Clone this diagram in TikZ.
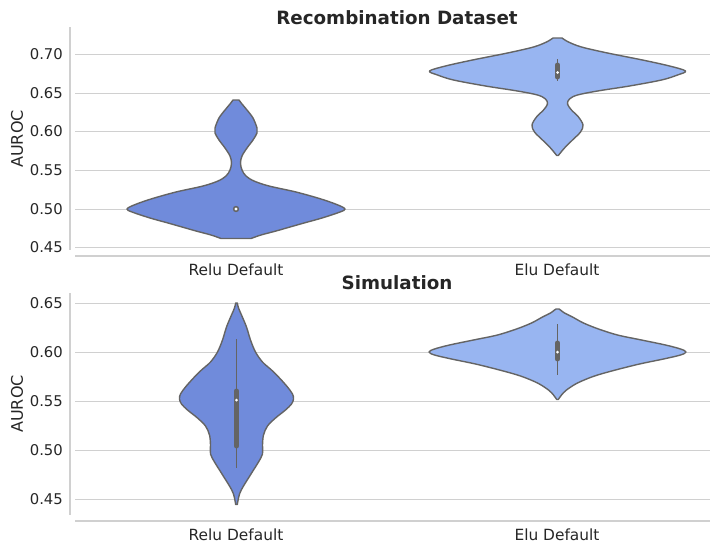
\documentclass[tikz,border=0pt]{standalone}
\usepackage{fontspec}
\setmainfont{DejaVu Sans}
\definecolor{relu}{RGB}{112,139,219}
\definecolor{elu}{RGB}{152,181,241}
\definecolor{vgray}{RGB}{100,100,100}
\definecolor{gridc}{RGB}{208,208,208}
\definecolor{txt}{RGB}{38,38,38}
\tikzset{
  gridline/.style={draw=gridc, line width=1pt},
  spine/.style={draw=gridc, line width=1.2pt},
  ticklab/.style={anchor=east, text=txt, font=\fontsize{14.8}{17}\selectfont, inner sep=0pt},
  xlab/.style={text=txt, font=\fontsize{15.4}{18}\selectfont, inner sep=0pt},
  ylab/.style={text=txt, font=\fontsize{16}{19}\selectfont, rotate=90, inner sep=0pt},
  ttl/.style={text=txt, font=\bfseries\fontsize{18.3}{21}\selectfont, inner sep=0pt},
  violin/.style={draw=vgray, line width=1.4pt, line join=round},
  whisk/.style={draw=vgray, line width=1.8pt},
  boxbar/.style={draw=vgray, line width=5pt, line cap=round},
}
\begin{document}
\begin{tikzpicture}[x=1pt,y=-1pt]
\useasboundingbox (0,0) rectangle (710,544);
% ---------- top panel ----------
\foreach \v/\y in {0.70/54,0.65/93,0.60/131,0.55/170,0.50/209,0.45/247}{
  \draw[gridline] (75,\y) -- (710,\y);
  \node[ticklab] (t\v) at (63,\y) {\v};
}
\draw[spine] (70,27) -- (70,250);
\draw[spine] (75,256) -- (710,256);
\node[ttl] (title1) at (397,18) {Recombination Dataset};
\node[ylab] (yl1) at (17,139) {AUROC};
\node[xlab] (xr1) at (236,270) {Relu Default};
\node[xlab] (xe1) at (557,270) {Elu Default};
% Relu violin (top)
\begin{scope}[xshift=236pt]
\filldraw[violin, fill=relu]
  plot[smooth, tension=0.55] coordinates {(3,100)(6,104)(11,110)(17,118)(21,128)(21,133)(17,140)(11,148)(6,156)(4.5,163)(6,170)(10,176)(18,181)(33,186)(60,192)(85,199)(102,205)(109,209)(104,212)(86,218)(68,223)(54,227)(40,231)(25,235)(15,238.5)}
  -- plot[smooth, tension=0.55] coordinates {(-15,238.5)(-25,235)(-40,231)(-54,227)(-68,223)(-86,218)(-104,212)(-109,209)(-102,205)(-85,199)(-60,192)(-33,186)(-18,181)(-10,176)(-6,170)(-4.5,163)(-6,156)(-11,148)(-17,140)(-21,133)(-21,128)(-17,118)(-11,110)(-6,104)(-3,100)}
  -- cycle;
\fill[vgray] (0,209) circle[radius=3.2];
\fill[white] (0,209) circle[radius=1.7];
\end{scope}
% Elu violin (top)
\begin{scope}[xshift=557.5pt]
\filldraw[violin, fill=elu]
  plot[smooth, tension=0.55] coordinates {(4.5,38)(11,42)(24,47)(50,53)(85,60)(112,66)(128,71)(120,75)(104,80)(72,86)(40,91)(20,95)(12,99)(10,104)(14,110)(21,117)(25.5,125)(23,132)(15,140)(7,148)(0.8,155.5)}
  -- plot[smooth, tension=0.55] coordinates {(-0.8,155.5)(-7,148)(-15,140)(-23,132)(-25.5,125)(-21,117)(-14,110)(-10,104)(-12,99)(-20,95)(-40,91)(-72,86)(-104,80)(-120,75)(-128,71)(-112,66)(-85,60)(-50,53)(-24,47)(-11,42)(-4.5,38)}
  -- cycle;
\coordinate (ew1a) at (0,59);
\coordinate (ew1b) at (0,81);
\coordinate (eb1a) at (0,65);
\coordinate (eb1b) at (0,77);
\draw[whisk] (ew1a) -- (ew1b);
\draw[boxbar] (eb1a) -- (eb1b);
\fill[white] (0,72.5) circle[radius=1.5];
\end{scope}
% ---------- bottom panel ----------
\foreach \v/\y in {0.65/303,0.60/352,0.55/401,0.50/450,0.45/499}{
  \draw[gridline] (75,\y) -- (710,\y);
  \node[ticklab] (b\v) at (63,\y) {\v};
}
\draw[spine] (70,293) -- (70,515);
\draw[spine] (75,521) -- (710,521);
\node[ttl] (title2) at (397,283) {Simulation};
\node[ylab] (yl2) at (17,404) {AUROC};
\node[xlab] (xr2) at (236,535) {Relu Default};
\node[xlab] (xe2) at (557,535) {Elu Default};
% Relu violin (bottom)
\begin{scope}[xshift=236.5pt]
\filldraw[violin, fill=relu]
  plot[smooth, tension=0.55] coordinates {(0.8,303)(2,308)(5,315)(10,327)(14,340)(19,352)(26,362)(35,370)(43,378)(51,387)(56,394)(57,399)(55,404)(49,410)(39,418)(31,426)(27,435)(26,445)(26,454)(22,462)(17,470)(12,478)(7,486)(3,494)(0.8,504.5)}
  -- plot[smooth, tension=0.55] coordinates {(-0.8,504.5)(-3,494)(-7,486)(-12,478)(-17,470)(-22,462)(-26,454)(-26,445)(-27,435)(-31,426)(-39,418)(-49,410)(-55,404)(-57,399)(-56,394)(-51,387)(-43,378)(-35,370)(-26,362)(-19,352)(-14,340)(-10,327)(-5,315)(-2,308)(-0.8,303)}
  -- cycle;
\coordinate (rw2a) at (0,339);
\coordinate (rw2b) at (0,468);
\coordinate (rb2a) at (0,391);
\coordinate (rb2b) at (0,446);
\draw[whisk] (rw2a) -- (rw2b);
\draw[boxbar] (rb2a) -- (rb2b);
\fill[white] (0,400) circle[radius=1.5];
\end{scope}
% Elu violin (bottom)
\begin{scope}[xshift=557.5pt]
\filldraw[violin, fill=elu]
  plot[smooth, tension=0.55] coordinates {(1.5,309)(3,310)(7,313)(15,317)(26,323)(41,329)(60,335)(84,340)(108,345)(123,349)(128.5,352)(123,355)(106,359)(82,364)(58,370)(37,376)(20,383)(9,390)(4,395)(0.8,399.5)}
  -- plot[smooth, tension=0.55] coordinates {(-0.8,399.5)(-4,395)(-9,390)(-20,383)(-37,376)(-58,370)(-82,364)(-106,359)(-123,355)(-128.5,352)(-123,349)(-108,345)(-84,340)(-60,335)(-41,329)(-26,323)(-15,317)(-7,313)(-3,310)(-1.5,309)}
  -- cycle;
\coordinate (ew2a) at (0,324);
\coordinate (ew2b) at (0,375);
\coordinate (eb2a) at (0,343);
\coordinate (eb2b) at (0,359);
\draw[whisk] (ew2a) -- (ew2b);
\draw[boxbar] (eb2a) -- (eb2b);
\fill[white] (0,352) circle[radius=1.5];
\end{scope}
\end{tikzpicture}
\end{document}
